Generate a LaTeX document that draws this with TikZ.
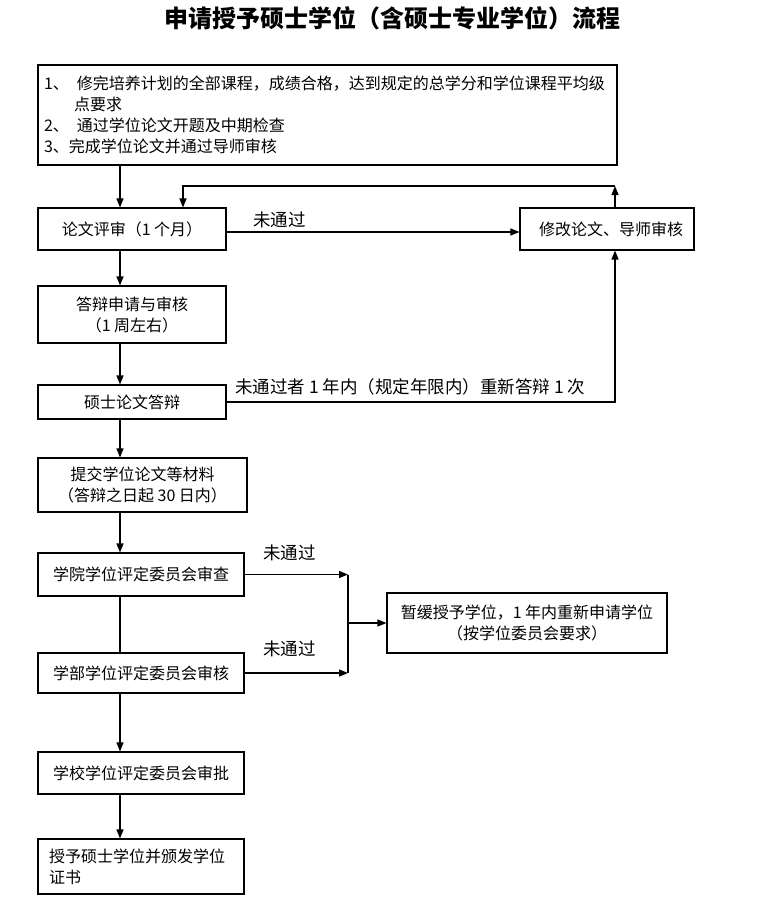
\documentclass[tikz,border=0pt]{standalone}
\usepackage{fontspec}
\setmainfont{Noto Sans CJK SC}
\usetikzlibrary{arrows.meta}
\tikzset{
  box/.style={draw, line width=1.1pt, inner sep=0pt, align=center, font=\fontsize{16}{21}\selectfont},
  arr/.style={line width=1.3pt, -{Triangle[length=9pt,width=7pt]}},
  ln/.style={line width=1.3pt},
  lbl/.style={font=\fontsize{17.5}{20}\selectfont, inner sep=0pt}
}
\begin{document}
\begin{tikzpicture}[x=1pt,y=-1pt]
\fill[white] (0,0) rectangle (757,904);
\useasboundingbox (0,0) rectangle (757,904);
\coordinate (mx) at (120,0);
\coordinate (rx) at (615,0);
\coordinate (lx) at (183,0);
\coordinate (ty) at (0,186);
\coordinate (jx) at (348,0);
\coordinate (ey) at (0,232);

\node[font=\bfseries\fontsize{24}{27}\selectfont] (title) at (392,18) {申请授予硕士学位（含硕士专业学位）流程};

\node[box, minimum width=579pt, minimum height=100pt, align=left, text width=567pt, font=\fontsize{16}{21}\selectfont] (b1) at (327.5,115)
 {1、\hspace{8pt}修完培养计划的全部课程，成绩合格，达到规定的总学分和学位课程平均级\\
  \hspace{30pt}点要求\\
  2、\hspace{8pt}通过学位论文开题及中期检查\\
  3、完成学位论文并通过导师审核};

\node[box, minimum width=188pt, minimum height=42pt] (lw) at (132,229) {论文评审（1 个月）};
\node[box, minimum width=174pt, minimum height=42pt] (xg) at (607,229) {\hspace{8pt}修改论文、导师审核};
\node[box, minimum width=188pt, minimum height=57pt] (dbsq) at (132,314.5) {答辩申请与审核\\（1 周左右）};
\node[box, minimum width=188pt, minimum height=34pt] (dbs) at (132,402) {硕士论文答辩};
\node[box, minimum width=209pt, minimum height=54pt] (tj) at (142.5,485) {提交学位论文等材料\\（答辩之日起 30 日内）};
\node[box, minimum width=206pt, minimum height=43pt] (xy) at (141,574.5) {学院学位评定委员会审查};
\node[box, minimum width=280pt, minimum height=60pt] (zh) at (527,623) {暂缓授予学位，1 年内重新申请学位\\（按学位委员会要求）};
\node[box, minimum width=206pt, minimum height=40pt] (xb) at (141,673) {学部学位评定委员会审核};
\node[box, minimum width=206pt, minimum height=42pt] (xx) at (141,773) {学校学位评定委员会审批};
\node[box, minimum width=206pt, minimum height=55pt, align=left, text width=184pt] (sy) at (141,866.5) {授予硕士学位并颁发学位\\证书};

% main column
\draw[arr] (b1.south -| mx) -- (lw.north -| mx);
\draw[arr] (lw.south -| mx) -- (dbsq.north -| mx);
\draw[arr] (dbsq.south -| mx) -- (dbs.north -| mx);
\draw[arr] (dbs.south -| mx) -- (tj.north -| mx);
\draw[arr] (tj.south -| mx) -- (xy.north -| mx);
\draw[ln] (xy.south -| mx) -- (xb.north -| mx);
\draw[arr] (xb.south -| mx) -- (xx.north -| mx);
\draw[arr] (xx.south -| mx) -- (sy.north -| mx);

% revision loop
\draw[arr] (lw.east |- ey) -- (xg.west |- ey);
\node[lbl, anchor=west] (l1) at (253,220) {未通过};
\draw[arr] (xg.north -| rx) -- (rx |- ty);
\draw[arr] (rx |- ty) -- (lx |- ty) -- (lw.north -| lx);
\draw[arr] (dbs.east) -- (rx |- dbs.east) -- (xg.south -| rx);
\node[lbl, anchor=west] (l2) at (235,387) {未通过者 1 年内（规定年限内）重新答辩 1 次};

% committee branch
\draw[arr] (xy.east) -- (jx |- xy.east);
\draw[arr] (xb.east) -- (jx |- xb.east);
\draw[ln] (jx |- xy.east) -- (jx |- xb.east);
\draw[arr] (jx |- zh.west) -- (zh.west);
\node[lbl, anchor=west] (l3) at (263,553) {未通过};
\node[lbl, anchor=west] (l4) at (263,649) {未通过};
\end{tikzpicture}
\end{document}
